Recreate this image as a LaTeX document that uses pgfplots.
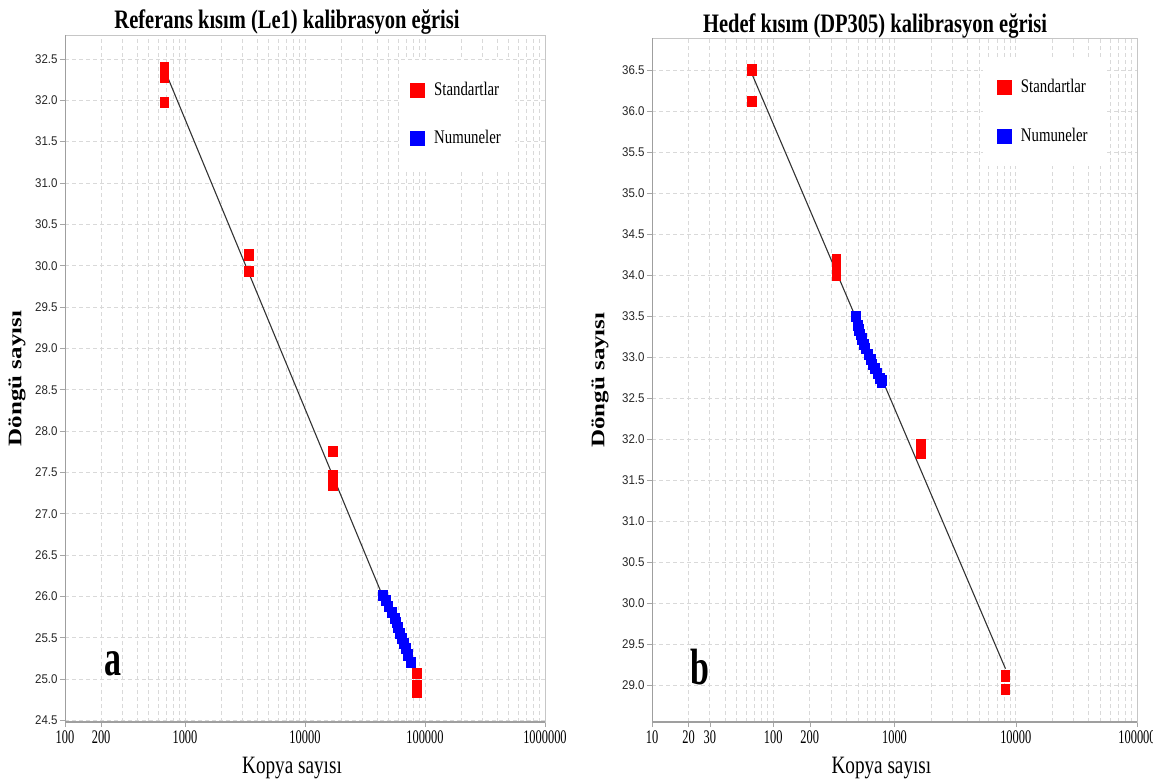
\documentclass[border=0pt]{standalone}
\usepackage{pgfplots}
\pgfplotsset{compat=1.18}
\usepackage{fontspec}
\setmainfont{Liberation Serif}
\setsansfont{Liberation Sans}

\pgfdeclareplotmark{rectmk}{\pgfpathrectangle{\pgfqpoint{-2.3pt}{-2.8pt}}{\pgfqpoint{4.6pt}{5.6pt}}\pgfusepathqfill}
\newcommand\xt[1]{\scalebox{1}[1.55]{\fontsize{6.2}{7}\selectfont #1}}
\newcommand\lgt[1]{\scalebox{1}[1.3]{\fontsize{7.4}{8}\selectfont #1}}
\newcommand\ttl[1]{\scalebox{1}[1.3]{\fontsize{10.25}{12}\bfseries\selectfont #1}}

\pgfplotsset{
  calstyle/.style={
    scale only axis,
    axis line style={gray!45},
    tick align=outside, xtick pos=bottom, ytick pos=left,
    major tick length=2.5pt, minor tick length=0pt,
    tick style={gray!70},
    grid=both,
    major grid style={gray!30, dash pattern=on 2pt off 1.5pt, line width=0.4pt},
    minor grid style={gray!30, dash pattern=on 2pt off 1.5pt, line width=0.4pt},
    ytick distance=0.5,
    yticklabel={\scalebox{1}[1.1]{\fontsize{5.75}{6}\sffamily\selectfont\pgfmathprintnumber[fixed,fixed zerofill,precision=1,assume math mode=true]{\tick}}},
    yticklabel style={xshift=2.3pt, text=black!85},
    xticklabel style={yshift=1.5pt},
    xlabel={\scalebox{1}[1.3]{\fontsize{9.6}{11}\selectfont Kopya sayısı}},
    xlabel style={at={(axis description cs:0.473,0)}, anchor=base, yshift=-25.5pt},
    ylabel={\scalebox{1.3}[1]{\fontsize{9.6}{11}\bfseries\selectfont Döngü sayısı}},
    legend cell align=left,
  }
}

\pgfplotstableread{
x y
680 32.40
680 32.28
680 31.97
3415 30.13
3415 29.93
17100 27.75
17100 27.46
17100 27.34
85800 25.07
85800 24.92
85800 24.84
}\leftstd

\pgfplotstableread{
x y
44670 26.01
47300 25.95
50000 25.88
53100 25.80
56200 25.73
58000 25.68
59600 25.62
61900 25.55
64300 25.49
66800 25.43
69500 25.37
72200 25.29
76400 25.20
}\leftsmp

\pgfplotstableread{
x y
66.8 36.50
66.8 36.12
332 34.19
332 34.08
332 33.99
1652 31.93
1652 31.83
8225 29.11
8225 28.95
}\rightstd

\pgfplotstableread{
x y
481 33.49
500 33.38
510 33.33
525 33.27
540 33.22
560 33.15
580 33.10
610 33.03
640 32.97
660 32.91
690 32.86
720 32.80
760 32.74
780 32.69
800 32.71
}\rightsmp

\begin{document}
\begin{tikzpicture}
\path[use as bounding box] (0,0) rectangle (576.5pt,391.5pt);

\begin{axis}[xmode=log, calstyle,
  at={(32.5pt,30.5pt)}, anchor=south west,
  width=240pt, height=343.5pt,
  xmin=100, xmax=1000000, ymin=24.48, ymax=32.79,
  xtick={100,200,1000,10000,100000,1000000},
  xticklabels={\xt{100},\xt{200},\xt{1000},\xt{10000},\xt{100000},\xt{1000000}},
  minor xtick={300,400,500,600,700,800,900,2000,3000,4000,5000,6000,7000,8000,9000,20000,30000,40000,50000,60000,70000,80000,90000,200000,300000,400000,500000,600000,700000,800000,900000},
  title={\ttl{Referans kısım (Le1) kalibrasyon eğrisi}},
  title style={at={(axis description cs:0.4625,1)}, anchor=base, yshift=-3pt},
  ylabel style={at={(axis description cs:0,0.5)}, anchor=center, yshift=24pt},
  legend style={at={(axis description cs:0.698,0.964)}, anchor=north west, draw=none, fill=white, inner xsep=5pt, inner ysep=9pt, row sep=12pt, /tikz/every odd column/.append style={column sep=2.5pt}},
]
\addplot[black!80, line width=0.55pt, forget plot] coordinates {(680,32.36) (85800,25.0)};
\addplot[only marks, mark=rectmk, red, legend image code/.code={\fill[red] (0pt,-3.5pt) rectangle (7pt,3.5pt);}] table[x=x,y=y] {\leftstd};
\addlegendentry{\lgt{Standartlar}}
\addplot[only marks, mark=rectmk, blue, legend image code/.code={\fill[blue] (0pt,-3.5pt) rectangle (7pt,3.5pt);}] table[x=x,y=y] {\leftsmp};
\addlegendentry{\lgt{Numuneler}}
\node at (axis cs:251,25.18) {\scalebox{1}[1.5]{\fontsize{17}{18}\bfseries\selectfont a}};
\draw[gray!75, line width=0.6pt] (rel axis cs:0,1) -- (rel axis cs:0,0) -- (rel axis cs:1,0);
\end{axis}

\begin{axis}[xmode=log, calstyle,
  at={(326pt,30.5pt)}, anchor=south west,
  width=242.5pt, height=342pt,
  xmin=10, xmax=100000, ymin=28.55, ymax=36.89,
  xtick={10,20,30,100,200,1000,10000,100000},
  xticklabels={\xt{10},\xt{20},\xt{30},\xt{100},\xt{200},\xt{1000},\xt{10000},\xt{100000}},
  minor xtick={40,50,60,70,80,90,300,400,500,600,700,800,900,2000,3000,4000,5000,6000,7000,8000,9000,20000,30000,40000,50000,60000,70000,80000,90000},
  title={\ttl{Hedef kısım (DP305) kalibrasyon eğrisi}},
  title style={at={(axis description cs:0.46,1)}, anchor=base, yshift=-3pt},
  ylabel style={at={(axis description cs:0,0.5)}, anchor=center, yshift=26pt},
  legend style={at={(axis description cs:0.682,0.972)}, anchor=north west, draw=none, fill=white, inner xsep=7pt, inner ysep=9pt, row sep=12pt, /tikz/every odd column/.append style={column sep=2.5pt}},
]
\addplot[black!80, line width=0.55pt, forget plot] coordinates {(66.8,36.45) (8225,29.2)};
\addplot[only marks, mark=rectmk, red, legend image code/.code={\fill[red] (0pt,-3.5pt) rectangle (7pt,3.5pt);}] table[x=x,y=y] {\rightstd};
\addlegendentry{\lgt{Standartlar}}
\addplot[only marks, mark=rectmk, blue, legend image code/.code={\fill[blue] (0pt,-3.5pt) rectangle (7pt,3.5pt);}] table[x=x,y=y] {\rightsmp};
\addlegendentry{\lgt{Numuneler}}
\node at (axis cs:24.9,29.22) {\scalebox{1}[1.5]{\fontsize{17}{18}\bfseries\selectfont b}};
\draw[gray!75, line width=0.6pt] (rel axis cs:0,1) -- (rel axis cs:0,0) -- (rel axis cs:1,0);
\end{axis}
\end{tikzpicture}
\end{document}
